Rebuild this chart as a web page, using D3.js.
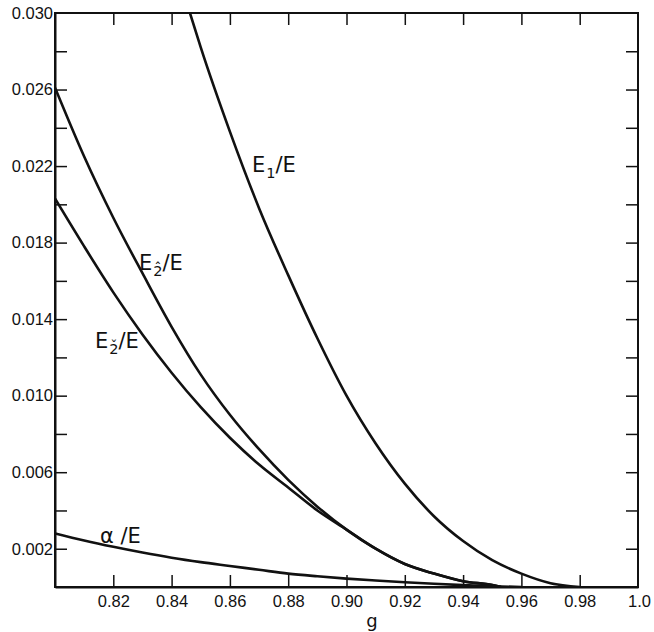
<html>
<head>
<meta charset="utf-8">
<style>
  body { margin: 0; background: #fff; }
  svg { font-family: "DejaVu Sans", sans-serif; }
  .axis text { font-size: 16.5px; fill: #111; }
  .axis path, .axis line { stroke: #111; }
  .lbl { font-size: 21px; fill: #111; }
</style>
<script src="https://cdnjs.cloudflare.com/ajax/libs/d3/7.8.5/d3.min.js"></script>
</head>
<body>
<svg id="chart" width="654" height="632"></svg>
<script>
// values
let gE1 = [0.8463, 0.85, 0.86, 0.87, 0.88, 0.89, 0.90, 0.91, 0.92, 0.93, 0.94, 0.95, 0.96, 0.97, 0.98];
let vE1 = [0.0300, 0.0282, 0.0238, 0.0198, 0.0163, 0.0130, 0.0100, 0.0075, 0.0054, 0.0037, 0.0024, 0.0014, 0.0007, 0.0002, 0.0];

let gE2 = [0.80, 0.81, 0.82, 0.83, 0.84, 0.85, 0.86, 0.87, 0.88, 0.89, 0.90, 0.91, 0.92, 0.93, 0.94, 0.95, 0.953];
let vE2hat = [0.0261, 0.0225, 0.0193, 0.0164, 0.0136, 0.0111, 0.0090, 0.0072, 0.0056, 0.0042, 0.0030, 0.0020, 0.0012, 0.0007, 0.0003, 0.0001, 0.0];
let vE2chk = [0.0203, 0.0178, 0.0154, 0.0132, 0.0112, 0.0094, 0.0078, 0.0064, 0.0052, 0.0040, 0.0030, 0.0020, 0.0012, 0.0007, 0.0003, 0.0001, 0.0];

let gAlpha = [0.80, 0.81, 0.82, 0.83, 0.84, 0.85, 0.86, 0.87, 0.88, 0.89, 0.90, 0.91, 0.92, 0.93, 0.94, 0.95, 0.96];
let vAlpha = [0.0028, 0.00243, 0.0021, 0.0018, 0.00153, 0.0013, 0.0011, 0.0009, 0.0007, 0.00056, 0.00044, 0.00034, 0.00025, 0.00017, 0.0001, 0.00004, 0.0];

let xTicks = [0.82, 0.84, 0.86, 0.88, 0.90, 0.92, 0.94, 0.96, 0.98, 1.0];
let yTicks = [0.002, 0.004, 0.006, 0.008, 0.010, 0.012, 0.014, 0.016, 0.018, 0.020, 0.022, 0.024, 0.026, 0.028, 0.030];
let yLabels = ["0.002", "0.006", "0.010", "0.014", "0.018", "0.022", "0.026", "0.030"];

let mLeft = 55, mTop = 13, width = 583, height = 574;

let svg = d3.select("#chart");
let g = svg.append("g").attr("transform", `translate(${mLeft},${mTop})`);

let x = d3.scaleLinear().domain([0.80, 1.0]).range([0, width]);
let y = d3.scaleLinear().domain([0, 0.030]).range([height, 0]);

// frame
g.append("rect")
  .attr("width", width).attr("height", height)
  .attr("fill", "none").attr("stroke", "#111").attr("stroke-width", 2);

// bottom axis with labels
let xb = g.append("g").attr("class", "axis")
  .attr("transform", `translate(0,${height})`)
  .call(d3.axisBottom(x).tickValues(xTicks).tickSize(-12).tickSizeOuter(0).tickPadding(8)
    .tickFormat(d => d === 1 ? "1.0" : d.toFixed(2)));
xb.selectAll("line").attr("stroke-width", 1.5);
xb.select(".domain").attr("stroke-width", 2);
xb.selectAll(".tick").filter(d => d === 1).select("line").remove();
xb.selectAll(".tick").filter(d => d === 1).select("text").attr("dx", 1);

// top ticks
let xt = g.append("g").attr("class", "axis")
  .call(d3.axisTop(x).tickValues(xTicks.filter(d => d < 1)).tickSize(-12).tickSizeOuter(0).tickFormat(""));
xt.selectAll("line").attr("stroke-width", 1.5);
xt.select(".domain").remove();

// left axis with labels
let yl = g.append("g").attr("class", "axis")
  .call(d3.axisLeft(y).tickValues(yTicks).tickSize(-12).tickSizeOuter(0).tickPadding(2)
    .tickFormat(d => yLabels.includes(d.toFixed(3)) ? d.toFixed(3) : ""));
yl.selectAll("line").attr("stroke-width", 1.5);
yl.select(".domain").attr("stroke-width", 2);
yl.selectAll(".tick").filter(d => d === 0.030).select("line").remove();

// right ticks
let yr = g.append("g").attr("class", "axis")
  .attr("transform", `translate(${width},0)`)
  .call(d3.axisRight(y).tickValues(yTicks.filter(d => d < 0.030)).tickSize(-12).tickSizeOuter(0).tickFormat(""));
yr.selectAll("line").attr("stroke-width", 1.5);
yr.select(".domain").remove();

// x title
svg.append("text").attr("x", 372).attr("y", 627)
  .attr("text-anchor", "middle").attr("font-size", 18).attr("fill", "#111").text("g");

// curves
g.append("clipPath").attr("id", "clip").append("rect").attr("width", width).attr("height", height);
let line = d3.line().x(d => x(d[0])).y(d => y(d[1])).curve(d3.curveMonotoneX);
let series = [
  d3.zip(gE1, vE1),
  d3.zip(gE2, vE2hat),
  d3.zip(gE2, vE2chk),
  d3.zip(gAlpha, vAlpha)
];
g.append("g").attr("clip-path", "url(#clip)")
  .selectAll("path").data(series).join("path")
  .attr("d", line)
  .attr("fill", "none").attr("stroke", "#111").attr("stroke-width", 2.6);

// labels: E, subscript (with combining mark above it), then /E
function label(px, py, sub) {
  let t = svg.append("text").attr("class", "lbl").attr("x", px).attr("y", py);
  t.append("tspan").text("E");
  t.append("tspan").attr("dy", 6).attr("dx", 1).attr("font-size", 14.5).text(sub);
  t.append("tspan").attr("dy", -6).text("/E");
}
label(252, 172, "1");
label(139, 270, "2\u0302");
label(95, 348, "2\u030c");
svg.append("text").attr("class", "lbl").attr("x", 100).attr("y", 543).text("\u03b1 /E");
</script>
</body>
</html>
